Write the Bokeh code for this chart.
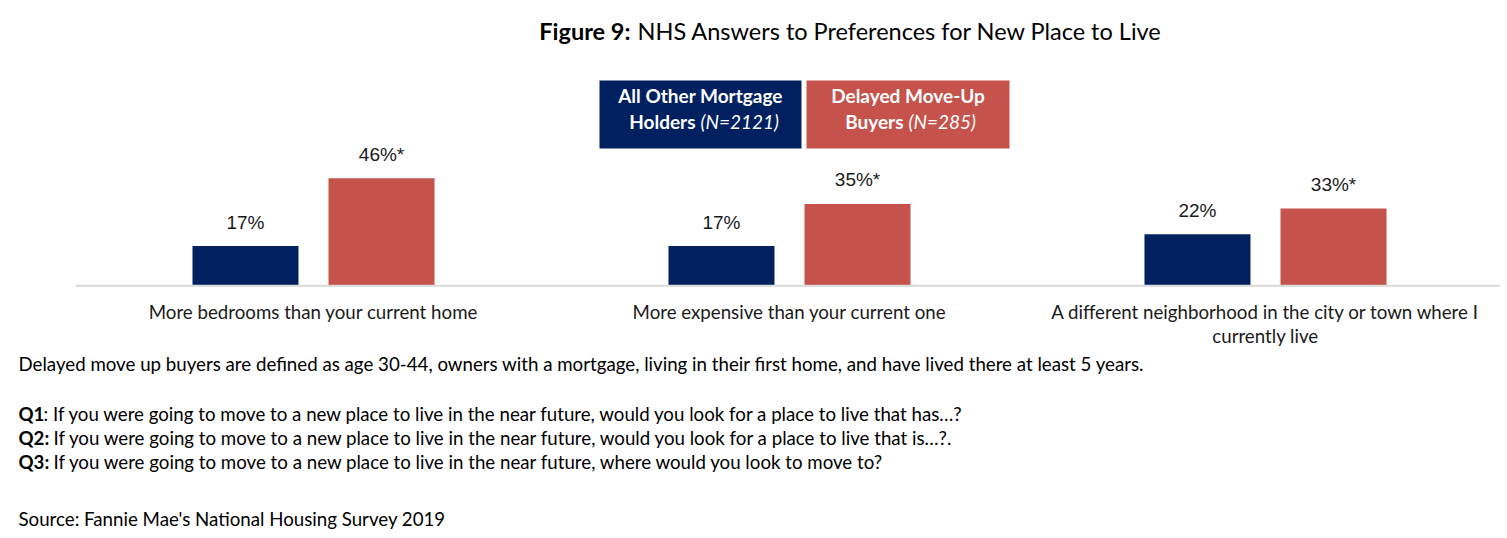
from bokeh.plotting import figure
from bokeh.models import Range1d, ColumnDataSource
from bokeh.transform import dodge
from bokeh.core.properties import value
from bokeh.embed import file_html
from bokeh.resources import INLINE

# chart data
categories = ["More bedrooms than your current home",
              "More expensive than your current one",
              "A different neighborhood in the city or town where I\ncurrently live"]
other_holders = [17, 17, 22]
delayed_buyers = [46, 35, 33]
other_labels = ["17%", "17%", "22%"]
delayed_labels = ["46%*", "35%*", "33%*"]

# legend text, split the way the boxes show it
legend_top = ["All Other Mortgage", "Delayed Move-Up"]
legend_bottom = ["Holders", "Buyers"]
legend_n = ["(N=2121)", "(N=285)"]
colors = ["#002060", "#C5534B"]

title_bold = "Figure 9:"
title_rest = "NHS Answers to Preferences for New Place to Live"
definition = ("Delayed move up buyers are defined as age 30-44, owners with a mortgage, "
              "living in their first home, and have lived there at least 5 years.")
q_bold = ["Q1", "Q2:", "Q3:"]
q_text = [": If you were going to move to a new place to live in the near future, would you look for a place to live that has\u2026?",
          "If you were going to move to a new place to live in the near future, would you look for a place to live that is\u2026?.",
          "If you were going to move to a new place to live in the near future, where would you look to move to?"]
source_note = "Source: Fannie Mae's National Housing Survey 2019"

FONT = value("Lato")
TXT = "#1a1a1a"
FS = "18.7px"

W, H = 1500, 536
# main ranges are page pixels, so annotations can be placed directly
p = figure(width=W, height=H, x_range=Range1d(0, W), y_range=Range1d(H, 0),
           output_backend="svg", toolbar_location=None, min_border=0,
           x_axis_location=None, y_axis_location=None)
p.grid.visible = False
p.outline_line_color = None
p.background_fill_color = "white"

# ranges for the bars: one unit per category, percent on y
base_px, px_per_pct = 285.3, 2.34
p.extra_x_ranges = {"cat": Range1d((0 - 313) / 476, (W - 313) / 476)}
p.extra_y_ranges = {"pct": Range1d(-(H - base_px) / px_per_pct, base_px / px_per_pct)}

src = ColumnDataSource(dict(idx=list(range(len(categories))), other=other_holders,
                            delayed=delayed_buyers, olab=other_labels, dlab=delayed_labels))

off = 0.1429
bw = 0.2227
p.vbar(x=dodge("idx", -off), top="other", bottom=0, width=bw, source=src,
       x_range_name="cat", y_range_name="pct", fill_color=colors[0], line_color=None)
p.vbar(x=dodge("idx", off), top="delayed", bottom=0, width=bw, source=src,
       x_range_name="cat", y_range_name="pct", fill_color=colors[1], line_color=None)

lab_kw = dict(source=src, x_range_name="cat", y_range_name="pct", text_align="center",
              text_baseline="middle", y_offset=-24, text_font=value("Liberation Sans"),
              text_font_size="19px", text_color="#1a1a1a")
p.text(x=dodge("idx", -off), y="other", text="olab", **lab_kw)
p.text(x=dodge("idx", off), y="delayed", text="dlab", **lab_kw)

# baseline
p.segment(x0=[-0.5], x1=[len(categories) - 0.5], y0=[0], y1=[0], x_range_name="cat",
          y_range_name="pct", line_color="#D9D9D9", line_width=2)

# category labels (wrapped lines)
cx, cy, ct = [], [], []
for i, c in enumerate(categories):
    for j, line in enumerate(c.split("\n")):
        cx.append(i)
        cy.append(311 + 24 * j)
        ct.append(line)
p.text(x=cx, y=cy, text=ct, x_range_name="cat", text_align="center", text_baseline="middle",
       text_font=FONT, text_font_size=FS, text_color=TXT)

# title
p.text(x=[630], y=[30], text=[title_bold], text_align="right", text_baseline="middle",
       text_font=FONT, text_font_style="bold", text_font_size="23.5px", text_color="black")
p.text(x=[637], y=[30], text=[title_rest], text_align="left", text_baseline="middle",
       text_font=FONT, text_font_size="23.5px", text_color="black")

# legend boxes
p.quad(left=[599, 806], right=[801, 1009], top=[80, 80], bottom=[148, 148],
       fill_color=colors, line_color=None)
p.text(x=[700, 907.5], y=[95, 95], text=legend_top, text_align="center",
       text_baseline="middle", text_font=FONT, text_font_style="bold",
       text_font_size="19px", text_color="white")
p.text(x=[695, 903], y=[121, 121], text=legend_bottom, text_align="right",
       text_baseline="middle", text_font=FONT, text_font_style="bold",
       text_font_size="19px", text_color="white")
p.text(x=[700, 908], y=[121, 121], text=legend_n, text_align="left",
       text_baseline="middle", text_font=FONT, text_font_style="italic",
       text_font_size="19px", text_color="white")

# notes
note_kw = dict(text_baseline="middle", text_font=FONT, text_font_size=FS, text_color="black")
p.text(x=[18], y=[363], text=[definition], **note_kw)
p.text(x=[18, 18, 18], y=[413, 437, 461], text=q_bold, text_font_style="bold", **note_kw)
p.text(x=[43, 53, 53], y=[413, 437, 461], text=q_text, **note_kw)
p.text(x=[18], y=[518], text=[source_note], **note_kw)

open("out.html", "w").write(file_html(p, INLINE))
